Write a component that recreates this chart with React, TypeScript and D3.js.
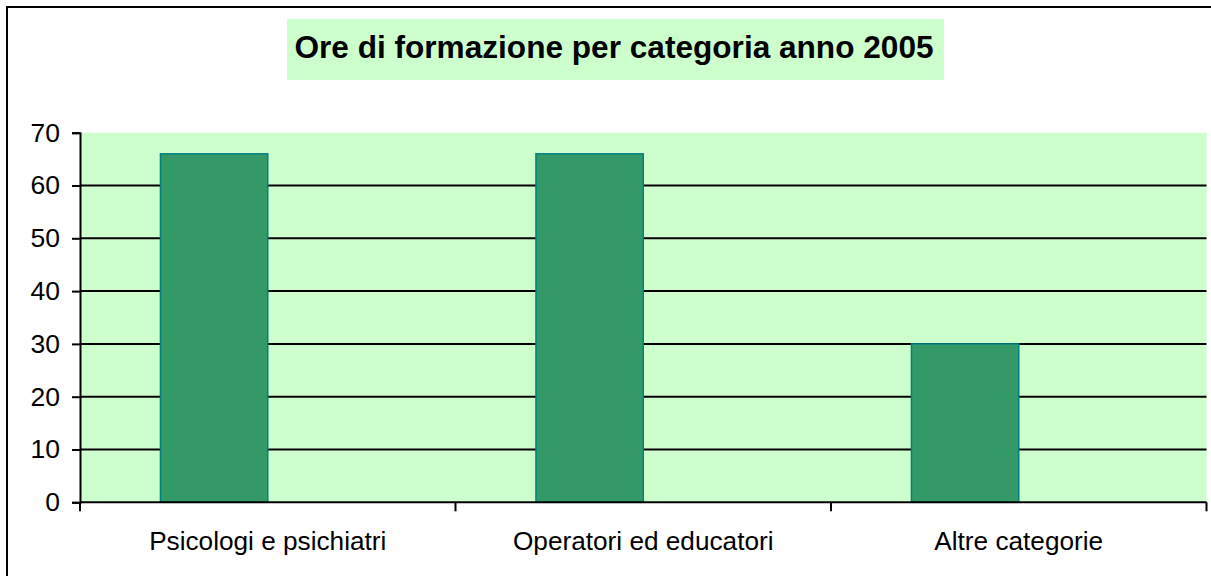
import React, { useEffect, useRef } from 'react';
import * as d3 from 'd3';

const categories = ['Psicologi e psichiatri', 'Operatori ed educatori', 'Altre categorie'];
const ore2005 = [66, 66, 30];
const yTicks = [0, 10, 20, 30, 40, 50, 60, 70];
const title = 'Ore di formazione per categoria anno 2005';

// excel-style grouping: one real series plus an empty slot, gap width 150%
const seriesSlots = ['2005', ''];

const App = () => {
  const ref = useRef<SVGSVGElement>(null);

  useEffect(() => {
    const svg = d3.select(ref.current);
    svg.selectAll('*').remove();

    const width = 1211;
    const height = 576;
    const plot = { left: 80, right: 1206.5, top: 132.7, bottom: 502.3 };
    const font = 'Arial, "Liberation Sans", sans-serif';

    // outer chart border (right and bottom fall outside the picture)
    svg.append('rect')
      .attr('x', 7).attr('y', 7)
      .attr('width', width).attr('height', height)
      .attr('fill', '#fff')
      .attr('stroke', '#000')
      .attr('stroke-width', 2);

    const x0 = d3.scaleBand()
      .domain(categories)
      .range([plot.left, plot.right])
      .padding(0);

    const x1 = d3.scaleBand()
      .domain(seriesSlots)
      .range([0, x0.bandwidth()])
      .paddingInner(0)
      .paddingOuter(0.75);

    const y = d3.scaleLinear()
      .domain([0, 70])
      .range([plot.bottom, plot.top]);

    // plot background
    svg.append('rect')
      .attr('x', plot.left).attr('y', plot.top)
      .attr('width', plot.right - plot.left)
      .attr('height', plot.bottom - plot.top)
      .attr('fill', '#ccffcc');

    // gridlines
    svg.append('g')
      .selectAll('line')
      .data(yTicks.filter(t => t > 0 && t < 70))
      .enter()
      .append('line')
      .attr('x1', plot.left).attr('x2', plot.right)
      .attr('y1', d => y(d)).attr('y2', d => y(d))
      .attr('stroke', '#000')
      .attr('stroke-width', 2);

    // bars
    svg.append('g')
      .selectAll('rect')
      .data(categories)
      .enter()
      .append('rect')
      .attr('x', d => x0(d)! + x1('2005')!)
      .attr('y', (d, i) => y(ore2005[i]))
      .attr('width', x1.bandwidth())
      .attr('height', (d, i) => y(0) - y(ore2005[i]))
      .attr('fill', '#339966')
      .attr('stroke', '#008080')
      .attr('stroke-width', 1.5);

    // y axis
    const yAxis = svg.append('g')
      .attr('transform', `translate(${plot.left},0)`)
      .call(d3.axisLeft(y).tickValues(yTicks).tickSize(8).tickPadding(12));
    yAxis.select('.domain').attr('stroke', '#000').attr('stroke-width', 2);
    yAxis.selectAll('.tick line').attr('stroke', '#000').attr('stroke-width', 2);
    yAxis.selectAll('.tick text')
      .attr('fill', '#000')
      .style('font-family', font)
      .style('font-size', '26.5px');

    // x axis with category boundary ticks
    const xAxis = svg.append('g');
    xAxis.append('line')
      .attr('x1', plot.left).attr('x2', plot.right)
      .attr('y1', plot.bottom).attr('y2', plot.bottom)
      .attr('stroke', '#000').attr('stroke-width', 2);
    const bounds = categories.map(c => x0(c)!).concat([x0.range()[1]]);
    xAxis.selectAll('line.tk')
      .data(bounds)
      .enter()
      .append('line')
      .attr('class', 'tk')
      .attr('x1', d => d).attr('x2', d => d)
      .attr('y1', plot.bottom).attr('y2', plot.bottom + 9)
      .attr('stroke', '#000').attr('stroke-width', 2);
    xAxis.selectAll('text')
      .data(categories)
      .enter()
      .append('text')
      .attr('x', d => x0(d)! + x0.bandwidth() / 2)
      .attr('y', 550)
      .attr('text-anchor', 'middle')
      .attr('fill', '#000')
      .style('font-family', font)
      .style('font-size', '26.2px')
      .text(d => d);

    // title
    svg.append('rect')
      .attr('x', 287).attr('y', 19)
      .attr('width', 657).attr('height', 61)
      .attr('fill', '#ccffcc');
    svg.append('text')
      .attr('x', 614)
      .attr('y', 58)
      .attr('text-anchor', 'middle')
      .attr('fill', '#000')
      .style('font-family', font)
      .style('font-weight', 'bold')
      .style('font-size', '31.6px')
      .text(title);
  }, []);

  return (
    <svg
      ref={ref}
      width={1211}
      height={576}
      style={{ position: 'absolute', left: 0, top: 0, display: 'block' }}
    />
  );
};

export default App;
